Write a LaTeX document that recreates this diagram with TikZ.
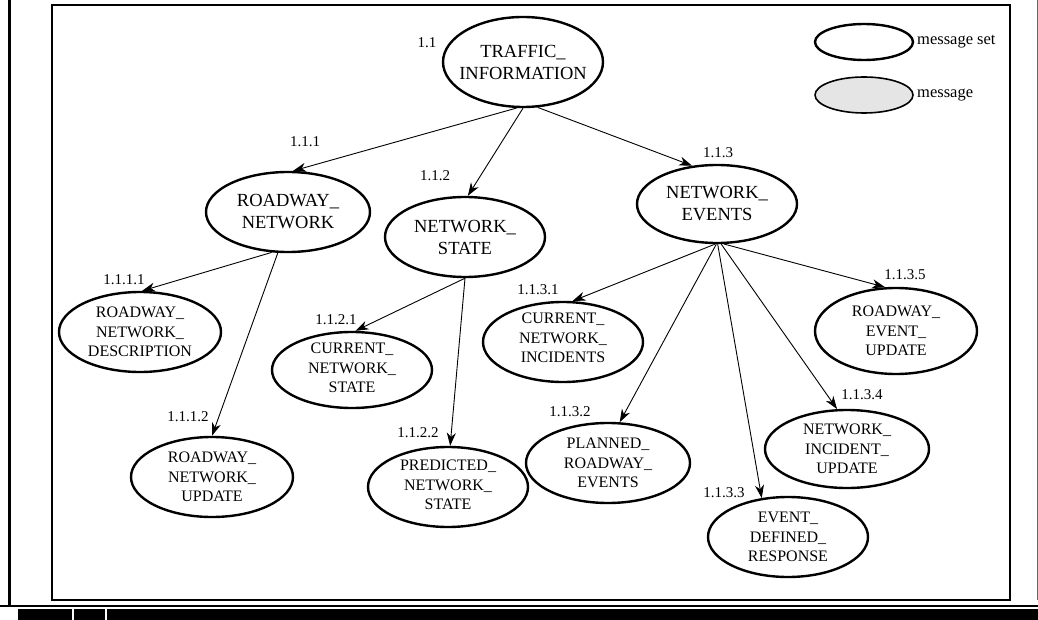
\documentclass[tikz,border=0pt]{standalone}
\usepackage{fontspec}
\setmainfont{Liberation Serif}
\usetikzlibrary{arrows.meta,shapes.geometric}
\tikzset{
  es/.style={ellipse,draw,line width=2.4pt,inner sep=0pt},
  tbig/.style={align=center,inner sep=0pt,font=\fontsize{18.5}{22}\selectfont},
  tsmall/.style={align=center,inner sep=0pt,font=\fontsize{16}{19.5}\selectfont},
  num/.style={inner sep=0pt,font=\fontsize{15}{17}\selectfont},
  conn/.style={line width=0.9pt,-{Stealth[length=13pt,width=9pt,inset=4pt]}},
  legtxt/.style={inner sep=0pt,anchor=west,font=\fontsize{16.5}{19}\selectfont}
}
\begin{document}
\begin{tikzpicture}[x=1pt,y=-1pt]
\useasboundingbox (0,0) rectangle (1038,620);
% frame
\draw[line width=2.5pt] (52,5) rectangle (1010,600);
\draw[line width=3pt] (9,0) -- (9,607);
\draw[line width=1.5pt] (0,606) -- (1038,606);
\draw[line width=1pt,black!60] (1037,0) -- (1037,600);
\fill (18,609) rectangle (1038,620);
\fill[white] (72,609) rectangle (74,620);
\fill[white] (105,609) rectangle (107,620);
% legend
\node[es,minimum width=98pt,minimum height=36pt] (lset) at (864,42) {};
\node[legtxt] (lsett) at (917,42) {message set};
\node[ellipse,draw,line width=1.6pt,fill=black!10,minimum width=98pt,minimum height=36pt,inner sep=0pt] (lmsg) at (864,95) {};
\node[legtxt] (lmsgt) at (917,95) {message};
% ellipses
\node[es,minimum width=160pt,minimum height=90pt] (ti) at (523,62) {};
\node[tbig] (tit) at (ti) {TRAFFIC\_\\INFORMATION};
\node[es,minimum width=164pt,minimum height=80pt] (rn) at (288,212) {};
\node[tbig] (rnt) at (rn) {ROADWAY\_\\NETWORK};
\node[es,minimum width=160pt,minimum height=80pt] (ns) at (465,237) {};
\node[tbig] (nst) at (ns) {NETWORK\_\\STATE};
\node[es,minimum width=160pt,minimum height=78pt] (ne) at (717,204) {};
\node[tbig] (net) at (ne) {NETWORK\_\\EVENTS};
\node[es,minimum width=162pt,minimum height=80pt] (rnd) at (140,332) {};
\node[tsmall] (rndt) at (rnd) {ROADWAY\_\\NETWORK\_\\DESCRIPTION};
\node[es,minimum width=162pt,minimum height=80pt] (rnu) at (212,477) {};
\node[tsmall] (rnut) at (rnu) {ROADWAY\_\\NETWORK\_\\UPDATE};
\node[es,minimum width=160pt,minimum height=76pt] (cns) at (352,370) {};
\node[tsmall] (cnst) at ([yshift=2pt]cns) {CURRENT\_\\NETWORK\_\\STATE};
\node[es,minimum width=160pt,minimum height=80pt] (pns) at (448,487) {};
\node[tsmall] (pnst) at ([yshift=2pt]pns) {PREDICTED\_\\NETWORK\_\\STATE};
\node[es,minimum width=160pt,minimum height=80pt] (cni) at (563,342) {};
\node[tsmall] (cnit) at ([yshift=4pt]cni) {CURRENT\_\\NETWORK\_\\INCIDENTS};
\node[es,minimum width=164pt,minimum height=80pt] (pre) at (608,463) {};
\node[tsmall] (pret) at (pre) {PLANNED\_\\ROADWAY\_\\EVENTS};
\node[es,minimum width=160pt,minimum height=80pt] (edr) at (788,537) {};
\node[tsmall] (edrt) at (edr) {EVENT\_\\DEFINED\_\\RESPONSE};
\node[es,minimum width=164pt,minimum height=78pt] (niu) at (847,449) {};
\node[tsmall] (niut) at (niu) {NETWORK\_\\INCIDENT\_\\UPDATE};
\node[es,minimum width=162pt,minimum height=86pt] (reu) at (896,331) {};
\node[tsmall] (reut) at (reu) {ROADWAY\_\\EVENT\_\\UPDATE};
% numbers
\node[num] (n11) at (427,43) {1.1};
\node[num] (n111) at (305,142) {1.1.1};
\node[num] (n112) at (435,176) {1.1.2};
\node[num] (n113) at (718,153) {1.1.3};
\node[num] (n1111) at (124,280) {1.1.1.1};
\node[num] (n1112) at (188,417) {1.1.1.2};
\node[num] (n1121) at (336,320) {1.1.2.1};
\node[num] (n1122) at (418,433) {1.1.2.2};
\node[num] (n1131) at (538,290) {1.1.3.1};
\node[num] (n1132) at (570,412) {1.1.3.2};
\node[num] (n1133) at (724,493) {1.1.3.3};
\node[num] (n1134) at (862,395) {1.1.3.4};
\node[num] (n1135) at (905,275) {1.1.3.5};
% connectors
\draw[conn] (ti.-98) -- (rn.83);
\draw[conn] (ti.-90) -- (ns.86);
\draw[conn] (ti.-72) -- (ne.123);
\draw[conn] (rn.-112) -- (rnd.87);
\draw[conn] (rn.-104) -- (rnu.90);
\draw[conn] (ns.-90) -- (cns.85);
\draw[conn] (ns.-90) -- (pns.87);
\draw[conn] (ne.-93) -- (cni.77);
\draw[conn] (ne.-91) -- (pre.74);
\draw[conn] (ne.-89) -- (edr.124);
\draw[conn] (ne.-84) -- (niu.104);
\draw[conn] (ne.-80) -- (reu.104);
\end{tikzpicture}
\end{document}
